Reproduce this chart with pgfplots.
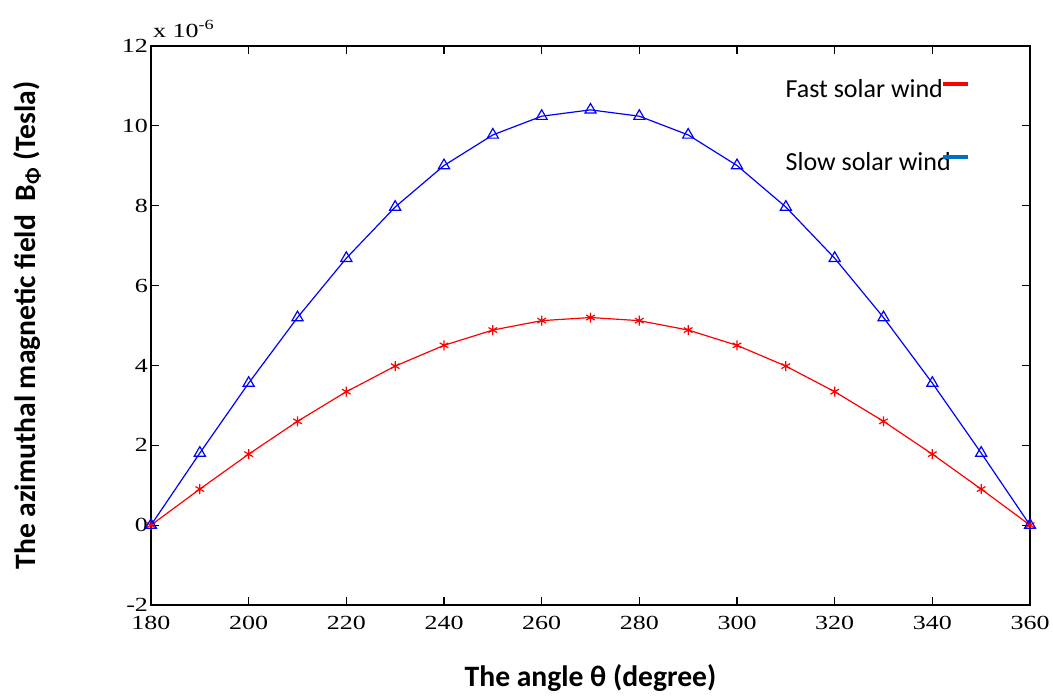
\documentclass[border=0pt]{standalone}
\usepackage{fontspec}
\setmainfont{Liberation Serif}
\newfontfamily\carlito{Carlito}
\usepackage{pgfplots}
\pgfplotsset{compat=1.18}
\definecolor{legblue}{RGB}{0,112,192}
\begin{document}
\begin{tikzpicture}
\begin{axis}[
  scale only axis,
  width=439.5pt, height=279.5pt,
  xmin=180, xmax=360, ymin=-2, ymax=12,
  xtick={180,200,...,360}, ytick={-2,0,...,12},
  tick align=inside, major tick length=4pt,
  axis line style={line width=0.8pt},
  every tick/.style={black, line width=0.6pt},
  tick label style={font=\fontsize{10}{12}\selectfont},
  xticklabel={\scalebox{1.3}[1]{\pgfmathprintnumber[assume math mode=true]{\tick}}},
  yticklabel={\scalebox{1.3}[1]{\pgfmathprintnumber[assume math mode=true]{\tick}}},
  xticklabel style={yshift=-2pt},
  yticklabel style={xshift=2pt},
  scaled y ticks=false,
  xlabel={\carlito\bfseries The angle θ (degree)},
  ylabel={\carlito\bfseries The azimuthal magnetic field\ \ B\textsubscript{Φ} (Tesla)},
  label style={font=\fontsize{14.8}{17}\selectfont},
  xlabel style={at={(axis description cs:0.5,-0.1449)}, anchor=base},
  ylabel style={at={(axis description cs:-0.141,0.5)}, anchor=center},
  legend plot pos=right,
  legend cell align=left,
  legend style={draw=none, fill=none, at={(axis description cs:0.717,0.948)}, anchor=north west,
    font=\carlito\fontsize{13}{15}\selectfont, row sep=22pt, inner sep=0pt},
  legend image code/.code={\draw[overlay, line width=1.6pt, #1] (-6pt,3pt) -- (6.5pt,3pt); \path[draw=none, fill=none] (0pt,0pt) rectangle (6.5pt,6pt);},
  clip=false,
]
\addplot[red, line width=0.6pt, mark=asterisk, mark size=2.5pt, forget plot] coordinates {
(180,0) (190,0.903) (200,1.778) (210,2.600) (220,3.342) (230,3.983) (240,4.503)
(250,4.886) (260,5.121) (270,5.200) (280,5.121) (290,4.886) (300,4.503) (310,3.983)
(320,3.342) (330,2.600) (340,1.778) (350,0.903) (360,0)};
\addplot[blue, line width=0.6pt, mark=triangle, mark size=3.2pt, mark options={solid}, forget plot] coordinates {
(180,0) (190,1.806) (200,3.557) (210,5.200) (220,6.685) (230,7.967) (240,9.007)
(250,9.773) (260,10.242) (270,10.400) (280,10.242) (290,9.773) (300,9.007) (310,7.967)
(320,6.685) (330,5.200) (340,3.557) (350,1.806) (360,0)};
\addlegendimage{red}
\addlegendentry{Fast solar wind}
\addlegendimage{legblue}
\addlegendentry{Slow solar wind}
\node[anchor=base west, inner sep=0pt, font=\fontsize{10}{12}\selectfont] at (axis description cs:0.002,1.016) {\scalebox{1.3}[1]{x 10\textsuperscript{-6}}};
\end{axis}
\path (current axis.south west) ++(-75.5pt,-45pt) coordinate (bbA);
\path (current axis.north east) ++(11.5pt,23pt) coordinate (bbB);
\pgfresetboundingbox
\useasboundingbox (bbA) rectangle (bbB);
\end{tikzpicture}
\end{document}
